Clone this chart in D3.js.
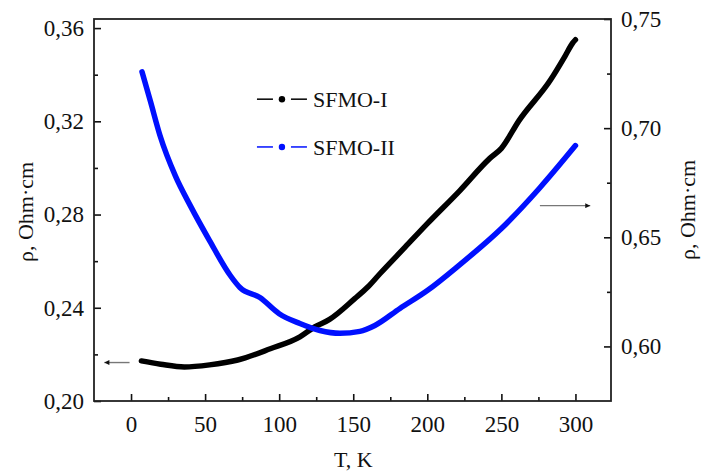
<!DOCTYPE html>
<html>
<head>
<meta charset="utf-8">
<script src="https://cdn.jsdelivr.net/npm/d3@7"></script>
<style>
  body { margin: 0; background: #fff; }
  text { font-family: "Liberation Serif", "Times New Roman", serif; fill: #111; }
</style>
</head>
<body>
<div id="chart"></div>
<script>
// SFMO-I, left axis
const tempI = [7, 20, 36, 53, 72, 94, 114, 124, 134, 151, 160, 168, 185, 200, 222, 242, 250, 262, 283, 293, 298, 300];
const rhoI  = [0.2172, 0.2158, 0.2146, 0.2155, 0.2176, 0.2224, 0.2275, 0.2318, 0.2350, 0.2439, 0.2490, 0.2546, 0.2660, 0.2761, 0.2903, 0.3040, 0.3084, 0.3204, 0.3376, 0.3480, 0.3535, 0.3550];
// SFMO-II, right axis
const tempII = [7.4, 13, 19.6, 30, 40, 53, 67, 73.5, 87, 100, 114, 127.5, 141, 154.5, 164.6, 181.5, 200, 222, 250, 276, 300];
const rhoII  = [0.7258, 0.7125, 0.6965, 0.678, 0.6645, 0.6485, 0.6325, 0.627, 0.6224, 0.615, 0.6105, 0.6073, 0.606, 0.6069, 0.6096, 0.6174, 0.6256, 0.6375, 0.654, 0.6727, 0.692];

const xTicks = [0, 50, 100, 150, 200, 250, 300];
const leftTicks = [0.20, 0.24, 0.28, 0.32, 0.36];
const rightTicks = [0.60, 0.65, 0.70, 0.75];

const W = 702, H = 475;
const margin = { top: 19, right: 91, bottom: 74, left: 94 };
const width = W - margin.left - margin.right;
const height = H - margin.top - margin.bottom;

const svg = d3.select("#chart").append("svg")
    .attr("width", W).attr("height", H);

const defs = svg.append("defs");
defs.append("marker")
    .attr("id", "arrow")
    .attr("viewBox", "0 0 10 10")
    .attr("refX", 10).attr("refY", 5)
    .attr("markerWidth", 9).attr("markerHeight", 5)
    .attr("markerUnits", "userSpaceOnUse")
    .attr("orient", "auto")
    .append("path").attr("d", "M0,0L10,5L0,10Z").attr("fill", "#111");

const g = svg.append("g")
    .attr("transform", "translate(" + margin.left + "," + margin.top + ")");

const x = d3.scaleLinear().domain([-25, 324]).range([0, width]);
const yL = d3.scaleLinear().domain([0.2, 0.3639]).range([height, 0]);
const yR = d3.scaleLinear().domain([0.575, 0.75]).range([height, 0]);

const comma = f => v => d3.format(f)(v).replace(".", ",");

// axes, ticks inward
function styleAxis(sel) {
  sel.select(".domain").remove();
  sel.selectAll(".tick line").attr("stroke", "#111").attr("stroke-width", 1.6);
  sel.selectAll(".tick text").style("font-size", "23px").attr("fill", "#111");
}

g.append("g")
    .attr("transform", "translate(0," + height + ")")
    .call(d3.axisBottom(x).tickValues(xTicks).tickSize(-7).tickPadding(15).tickFormat(d3.format("d")))
    .call(styleAxis);
g.append("g")
    .attr("transform", "translate(0," + height + ")")
    .call(d3.axisBottom(x).tickValues([25, 75, 125, 175, 225, 275]).tickSize(-4).tickFormat(""))
    .call(styleAxis);

g.append("g")
    .call(d3.axisLeft(yL).tickValues(leftTicks).tickSize(-7).tickPadding(10).tickFormat(comma(".2f")))
    .call(styleAxis);
g.append("g")
    .call(d3.axisLeft(yL).tickValues([0.22, 0.26, 0.30, 0.34]).tickSize(-4).tickFormat(""))
    .call(styleAxis);

g.append("g")
    .attr("transform", "translate(" + width + ",0)")
    .call(d3.axisRight(yR).tickValues(rightTicks).tickSize(-7).tickPadding(10).tickFormat(comma(".2f")))
    .call(styleAxis);
g.append("g")
    .attr("transform", "translate(" + width + ",0)")
    .call(d3.axisRight(yR).tickValues([0.625, 0.675, 0.725]).tickSize(-4).tickFormat(""))
    .call(styleAxis);

// frame
g.append("rect")
    .attr("width", width).attr("height", height)
    .attr("fill", "none").attr("stroke", "#222").attr("stroke-width", 1.8);

// curves
const lineI = d3.line()
    .x((d, i) => x(tempI[i])).y(d => yL(d))
    .curve(d3.curveMonotoneX);
const lineII = d3.line()
    .x((d, i) => x(tempII[i])).y(d => yR(d))
    .curve(d3.curveMonotoneX);

g.append("path").datum(rhoI)
    .attr("d", lineI)
    .attr("fill", "none").attr("stroke", "#000")
    .attr("stroke-width", 5.5).attr("stroke-linecap", "round").attr("stroke-linejoin", "round");
g.append("path").datum(rhoII)
    .attr("d", lineII)
    .attr("fill", "none").attr("stroke", "#0010ff")
    .attr("stroke-width", 5.5).attr("stroke-linecap", "round").attr("stroke-linejoin", "round");

// arrows pointing to the axes
g.append("line")
    .attr("x1", x(-1)).attr("x2", x(-18))
    .attr("y1", yL(0.2165)).attr("y2", yL(0.2165))
    .attr("stroke", "#777").attr("stroke-width", 1.4)
    .attr("marker-end", "url(#arrow)");
g.append("line")
    .attr("x1", x(276)).attr("x2", x(310))
    .attr("y1", yR(0.6645)).attr("y2", yR(0.6645))
    .attr("stroke", "#777").attr("stroke-width", 1.4)
    .attr("marker-end", "url(#arrow)");

// legend
const legend = [
  { name: "SFMO-I", color: "#000", y: 0.3295 },
  { name: "SFMO-II", color: "#0010ff", y: 0.3090 }
];
const lg = g.selectAll(".lg").data(legend).enter().append("g")
    .attr("transform", d => "translate(" + x(85) + "," + yL(d.y) + ")");
lg.append("line").attr("x1", 0).attr("x2", 16).attr("stroke", d => d.color).attr("stroke-width", 1.5);
lg.append("line").attr("x1", 34).attr("x2", 50).attr("stroke", d => d.color).attr("stroke-width", 1.5);
lg.append("circle").attr("cx", 25).attr("r", 3.2).attr("fill", d => d.color);
lg.append("text").attr("x", 56).attr("dy", "0.35em")
    .style("font-size", "22px").text(d => d.name);

// axis titles
svg.append("text")
    .attr("transform", "translate(33," + (margin.top + height / 2 + 2) + ") rotate(-90)")
    .attr("text-anchor", "middle").style("font-size", "22px")
    .text("ρ, Ohm·cm");
svg.append("text")
    .attr("transform", "translate(695," + (margin.top + height / 2) + ") rotate(-90)")
    .attr("text-anchor", "middle").style("font-size", "22px")
    .text("ρ, Ohm·cm");
svg.append("text")
    .attr("x", margin.left + x(150)).attr("y", 467)
    .attr("text-anchor", "middle").style("font-size", "22px")
    .text("T, K");
</script>
</body>
</html>
